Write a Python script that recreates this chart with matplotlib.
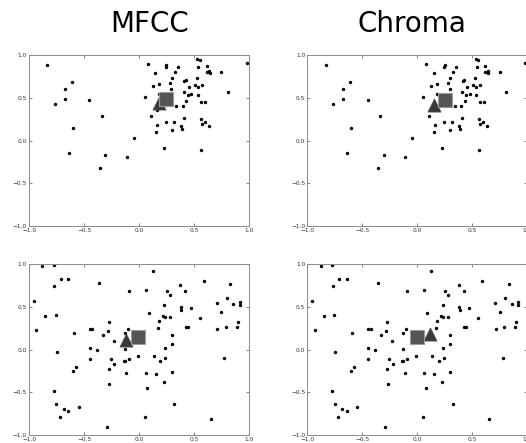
import numpy as np
import matplotlib
matplotlib.use("Agg")
import matplotlib.pyplot as plt

# top row: same points in both panels
top_x = [-0.833, -0.767, -0.673, -0.673, -0.609, -0.603, -0.636, -0.452, -0.339, -0.306,
         -0.355, -0.109, -0.048, 0.055, 0.082, 0.148, 0.124, 0.182, 0.182, 0.245,
         0.248, 0.327, 0.355, 0.300, 0.282, 0.294, 0.109, 0.161, 0.164, 0.155,
         0.245, 0.318, 0.297, 0.227, 0.339, 0.397, 0.409, 0.382, 0.391, 0.409,
         0.412, 0.427, 0.442, 0.430, 0.452, 0.476, 0.509, 0.527, 0.536, 0.533,
         0.530, 0.552, 0.539, 0.570, 0.567, 0.564, 0.570, 0.561, 0.600, 0.603,
         0.615, 0.615, 0.639, 0.642, 0.633, 0.748, 0.806, 0.979, 0.194]
top_y = [0.890, 0.425, 0.600, 0.483, 0.683, 0.147, -0.151, 0.476, 0.292, -0.166,
         -0.323, -0.198, 0.033, 0.511, 0.902, 0.796, 0.636, 0.660, 0.542, 0.859,
         0.883, 0.804, 0.859, 0.730, 0.671, 0.605, 0.284, 0.358, 0.178, 0.100,
         0.221, 0.221, 0.123, -0.088, 0.409, 0.405, 0.268, 0.166, 0.139, 0.569,
         0.703, 0.706, 0.534, 0.464, 0.624, 0.546, 0.648, 0.738, 0.628, 0.530,
         0.957, 0.945, 0.867, 0.652, 0.452, 0.252, 0.194, -0.108, 0.221, 0.452,
         0.871, 0.804, 0.812, 0.796, 0.170, 0.800, 0.569, 0.914, 0.406]

# bottom row: same points in both panels
bot_x = [-0.955, -0.933, -0.879, -0.776, -0.852, -0.770, -0.755, -0.748, -0.709, -0.642,
         -0.776, -0.752, -0.682, -0.642, -0.721, -0.545, -0.591, -0.576, -0.603, -0.445,
         -0.424, -0.445, -0.445, -0.385, -0.361, -0.327, -0.276, -0.282, -0.227, -0.258,
         -0.224, -0.273, -0.270, -0.294, -0.130, -0.103, -0.091, -0.130, -0.130, -0.139,
         -0.094, -0.115, -0.012, 0.064, 0.088, 0.127, 0.061, 0.076, 0.055, 0.136,
         0.155, 0.173, 0.182, 0.194, 0.218, 0.233, 0.230, 0.233, 0.239, 0.224,
         0.255, 0.279, 0.279, 0.297, 0.297, 0.297, 0.321, 0.376, 0.379, 0.385,
         0.421, 0.427, 0.445, 0.470, 0.552, 0.591, 0.655, 0.706, 0.712, 0.748,
         0.776, 0.788, 0.800, 0.830, 0.858, 0.891, 0.897, 0.918, 0.918]
bot_y = [0.571, 0.224, 0.984, 0.996, 0.388, 0.743, 0.411, -0.033, 0.825, 0.832,
         -0.481, -0.641, -0.696, -0.715, -0.786, -0.676, 0.189, -0.205, -0.255, 0.236,
         0.236, 0.014, -0.115, -0.006, 0.781, 0.169, 0.329, 0.216, 0.099, -0.111,
         -0.173, -0.224, -0.407, -0.903, 0.193, 0.244, 0.688, 0.010, -0.131, -0.138,
         -0.111, -0.271, -0.072, 0.700, 0.423, 0.918, -0.271, -0.454, -0.797, -0.076,
         -0.285, 0.255, 0.337, -0.138, 0.392, 0.380, 0.517, 0.014, -0.103, -0.384,
         0.684, 0.641, 0.380, 0.173, 0.060, -0.259, -0.634, 0.754, 0.501, 0.462,
         0.688, 0.259, 0.263, 0.493, 0.368, 0.809, -0.813, 0.544, 0.240, 0.439,
         -0.103, 0.267, 0.603, 0.766, 0.540, 0.263, 0.318, 0.552, 0.517]

titles = ["MFCC", "Chroma"]
# square / triangle centres per panel: [row][col]
square_pos = [[(0.245, 0.483), (0.250, 0.480)],
              [(-0.006, 0.150), (0.000, 0.146)]]
tri_pos = [[(0.185, 0.446), (0.152, 0.414)],
           [(-0.121, 0.109), (0.115, 0.181)]]

ticks = [-1.0, -0.5, 0.0, 0.5, 1.0]

W, H = 526, 443
fig = plt.figure(figsize=(W / 100, H / 100), dpi=100)

lefts = [29, 307.3]
tops = [55.3, 264.3]
aw, ah = 220, 170.5

for r in range(2):
    px = top_x if r == 0 else bot_x
    py = top_y if r == 0 else bot_y
    for c in range(2):
        ax = fig.add_axes([lefts[c] / W, 1 - (tops[r] + ah) / H, aw / W, ah / H])
        ax.scatter(px, py, s=6, c='k', linewidths=0, zorder=2)
        sx, sy = square_pos[r][c]
        tx, ty = tri_pos[r][c]
        # triangle first, square sits on top of it
        ax.scatter([tx], [ty], marker='^', s=90, c='#383838', edgecolors='#555555',
                   linewidths=0.5, zorder=3)
        ax.scatter([sx], [sy], marker='s', s=105, c='#555555', edgecolors='#9a9a9a',
                   linewidths=0.8, zorder=4)
        ax.set_xlim(-1, 1)
        ax.set_ylim(-1, 1)
        ax.set_xticks(ticks)
        ax.set_yticks(ticks)
        ax.tick_params(direction='in', length=2, width=0.5, labelsize=4.2,
                       colors='#555555', labelcolor='#333333', pad=1.5,
                       top=True, right=True)
        for sp in ax.spines.values():
            sp.set_color('#8a8a8a')
            sp.set_linewidth(0.7)

fig.text(150 / W, 1 - 32 / H, titles[0], fontsize=20, ha='center', va='baseline')
fig.text(412 / W, 1 - 32 / H, titles[1], fontsize=20, ha='center', va='baseline')

fig.savefig("out.png", dpi=100)
